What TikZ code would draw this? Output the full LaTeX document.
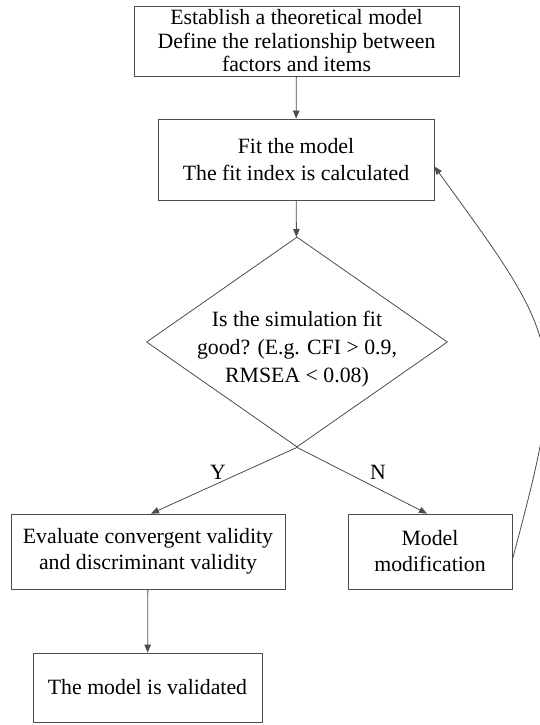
\documentclass[tikz,border=0pt]{standalone}
\usepackage{fontspec}
\setmainfont{Liberation Serif}
\usetikzlibrary{shapes.geometric,arrows.meta}

\begin{document}
\begin{tikzpicture}[x=1pt, y=1pt,
            box/.style={draw=black!70, line width=0.8pt, inner sep=0pt, align=center,
                font=\fontsize{21.8pt}{26pt}\selectfont},
            arr/.style={draw=black!70, line width=0.8pt, -{Triangle[length=8pt,width=6.5pt]}}]
            \useasboundingbox (0,0) rectangle (540,-725);

            \node[box, minimum width=325pt, minimum height=70pt,
                font=\fontsize{21.8pt}{23.5pt}\selectfont] (model) at (296.5,-41)
                {Establish a theoretical model\\Define the relationship between\\factors and items};
            \node[box, minimum width=276pt, minimum height=81pt,
                font=\fontsize{21.8pt}{27pt}\selectfont] (fit) at (296,-159.5)
                {Fit the model\\The fit index is calculated};
            \node[draw=black!70, line width=0.8pt, diamond, minimum width=301pt,
                minimum height=210pt, inner sep=0pt] (check) at (297,-342) {};
            \node[align=center, inner sep=0pt, font=\fontsize{21.8pt}{28pt}\selectfont]
                (checktext) at (297,-349.5)
                {Is the simulation fit\\good? (E.g. CFI > 0.9,\\RMSEA < 0.08)};
            \node[box, minimum width=274pt, minimum height=75pt] (valid) at (148,-551.5)
                {Evaluate convergent validity\\and discriminant validity};
            \node[box, minimum width=164pt, minimum height=75pt] (modify) at (430,-551.5)
                {Model\\modification};
            \node[box, minimum width=229pt, minimum height=69pt] (done) at (147.5,-687.5)
                {The model is validated};
            \node[font=\fontsize{21.8pt}{24pt}\selectfont, inner sep=0pt] (yes) at (218,-472) {Y};
            \node[font=\fontsize{21.8pt}{24pt}\selectfont, inner sep=0pt] (no) at (378,-472) {N};

            \draw[arr] (model) -- (fit);
            \draw[arr] (fit) -- (check);
            \draw[arr] (check.south) -- ([xshift=3pt]valid.north);
            \draw[arr] (check.south) -- ([xshift=-3pt]modify.north);
            \draw[arr] (valid) -- (done);
            \draw[arr] ([yshift=-8pt]modify.east) to[out=75, in=-54, looseness=1.4]
                ([yshift=-7pt]fit.east);
        \end{tikzpicture}
\end{document}
